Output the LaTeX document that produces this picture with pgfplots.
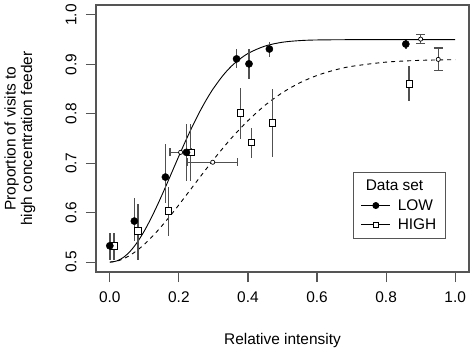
\documentclass[border=0pt]{standalone}
\usepackage{fontspec}
\setmainfont{Liberation Sans}
\usepackage{pgfplots}
\pgfplotsset{compat=1.18}
\definecolor{barcol}{HTML}{505050}
\definecolor{framecol}{HTML}{555555}
\begin{document}
\begin{tikzpicture}
\begin{axis}[
  scale only axis, width=373bp, height=267bp,
  xmin=-0.04, xmax=1.04, ymin=0.48, ymax=1.02,
  axis line style={framecol, line width=1.1bp},
  xtick={0,0.2,0.4,0.6,0.8,1.0},
  ytick={0.5,0.6,0.7,0.8,0.9,1.0},
  tick align=outside, tick pos=left,
  major tick length=10bp,
  every tick/.style={framecol, line width=1.1bp},
  /pgf/number format/assume math mode=true,
  /pgf/number format/fixed, /pgf/number format/fixed zerofill, /pgf/number format/precision=1,
  font=\fontsize{15.5}{17}\selectfont,
  tick label style={font=\fontsize{15.5}{17}\selectfont},
  x tick label style={yshift=-6bp},
  y tick label style={rotate=90, anchor=south, xshift=0bp, yshift=6bp},
  xlabel={Relative intensity},
  xlabel style={at={(axis description cs:0.5,-0.255)}, anchor=center},
  ylabel={Proportion of visits to\\high concentration feeder},
  ylabel style={at={(axis description cs:-0.204,0.5)}, anchor=center, align=center, font=\fontsize{15.5}{16.5}\selectfont},
  clip=false,
  legend style={at={(axis description cs:0.938,0.122)}, anchor=south east,
    draw=framecol, line width=1bp, fill=white, inner xsep=7bp, inner ysep=6bp,
    row sep=3bp, column sep=5bp, font=\fontsize{15.5}{17}\selectfont},
  legend cell align=left,
  legend image code/.code={%
    \draw[#1] (0bp,0bp) -- (29bp,0bp);
    \draw[#1, solid, mark repeat=2, mark phase=2] plot coordinates {(0bp,0bp) (14.5bp,0bp) (29bp,0bp)};
  },
]
\addlegendimage{empty legend}
\addlegendentry{\hspace*{-32bp}Data set\rule[-10bp]{0pt}{10bp}}
\addlegendimage{black, line width=0.9bp, mark=*, mark options={solid, fill=black, mark size=3bp}}
\addlegendentry{LOW}
\addlegendimage{black, line width=0.9bp, dash pattern=on 4bp off 4bp, mark=square*, mark options={solid, fill=white, mark size=2.6bp, line width=0.8bp}}
\addlegendentry{HIGH}

% fitted curve LOW (solid)
\addplot[forget plot, black, line width=0.9bp, smooth] coordinates {
(0,0.5000) (0.02,0.5023) (0.04,0.5098) (0.06,0.5227) (0.08,0.5406) (0.10,0.5631)
(0.12,0.5894) (0.14,0.6187) (0.16,0.6499) (0.18,0.6822) (0.20,0.7145) (0.22,0.7460)
(0.24,0.7759) (0.26,0.8037) (0.28,0.8289) (0.30,0.8513) (0.33,0.8795) (0.36,0.9014)
(0.40,0.9220) (0.45,0.9371) (0.50,0.9447) (0.55,0.9480) (0.60,0.9493) (0.70,0.9499)
(0.80,0.9500) (1.00,0.9500)};
% fitted curve HIGH (dashed)
\addplot[forget plot, black, line width=0.9bp, dash pattern=on 4bp off 4bp, smooth] coordinates {
(0,0.5000) (0.02,0.5019) (0.04,0.5069) (0.06,0.5144) (0.08,0.5242) (0.10,0.5361)
(0.12,0.5496) (0.14,0.5647) (0.16,0.5809) (0.18,0.5980) (0.20,0.6158) (0.22,0.6341)
(0.24,0.6525) (0.26,0.6709) (0.28,0.6891) (0.30,0.7070) (0.33,0.7327) (0.36,0.7569)
(0.40,0.7861) (0.45,0.8175) (0.50,0.8428) (0.55,0.8626) (0.60,0.8775) (0.65,0.8883)
(0.70,0.8959) (0.80,0.9045) (0.90,0.9081) (1.00,0.9094)};

% HIGH data with error bars
\addplot[forget plot, only marks, mark=square*, mark options={fill=white, draw=black, line width=0.8bp, mark size=3.3bp},
  error bars/.cd, y dir=both, y explicit, error mark=none,
  error bar style={barcol, line width=1.6bp}]
  table[x=x, y=y, y error plus=ep, y error minus=em] {
x y ep em
0.012 0.533 0.025 0.028
0.082 0.563 0.055 0.058
0.170 0.603 0.049 0.051
0.234 0.722 0.057 0.057
0.378 0.802 0.051 0.053
0.410 0.742 0.030 0.032
0.471 0.782 0.069 0.070
0.867 0.861 0.035 0.035
};

% LOW data with error bars
\addplot[forget plot, only marks, mark=*, mark options={fill=black, draw=black, mark size=3.6bp},
  error bars/.cd, y dir=both, y explicit, error mark=none,
  error bar style={barcol, line width=1.6bp}]
  table[x=x, y=y, y error plus=ep, y error minus=em] {
x y ep em
0.000 0.533 0.025 0.028
0.071 0.583 0.046 0.041
0.161 0.672 0.067 0.052
0.222 0.722 0.057 0.057
0.367 0.911 0.021 0.018
0.403 0.901 0.031 0.031
0.462 0.931 0.015 0.016
0.857 0.941 0.009 0.010
};

% threshold estimates (horizontal error bars)
\addplot[forget plot, only marks, mark=*, mark options={draw=black, fill=white, line width=0.7bp, mark size=2.1bp},
  error bars/.cd, x dir=both, x explicit,
  error mark options={rotate=90, mark size=4bp, barcol, line width=1.3bp},
  error bar style={barcol, line width=1.3bp}]
  table[x=x, y=y, x error plus=ep, x error minus=em] {
x y ep em
0.205 0.722 0.030 0.031
0.298 0.702 0.071 0.074
};
% plateau estimates (vertical error bars)
\addplot[forget plot, only marks, mark=*, mark options={draw=black, fill=white, line width=0.7bp, mark size=2.1bp},
  error bars/.cd, y dir=both, y explicit,
  error mark options={rotate=90, mark size=4.5bp, barcol, line width=1.3bp},
  error bar style={barcol, line width=1.3bp}]
  table[x=x, y=y, y error plus=ep, y error minus=em] {
x y ep em
0.900 0.951 0.009 0.009
0.951 0.910 0.023 0.022
};
\end{axis}
\path[use as bounding box] ([xshift=-96bp, yshift=-81bp]current axis.south west) rectangle ([xshift=5bp, yshift=5bp]current axis.north east);
\end{tikzpicture}
\end{document}
